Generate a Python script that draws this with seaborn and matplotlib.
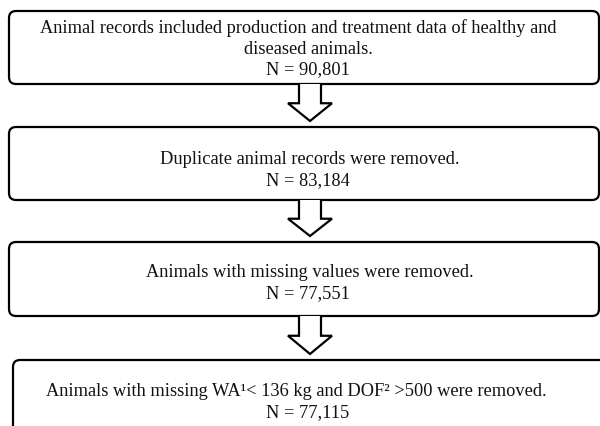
import numpy as np
import seaborn as sns
import matplotlib.pyplot as plt
from matplotlib.patches import FancyBboxPatch, Polygon

# flowchart content
step_text = [
    ["Animal records included production and treatment data of healthy and",
     "diseased animals."],
    ["Duplicate animal records were removed."],
    ["Animals with missing values were removed."],
    ["Animals with missing WA\u00b9< 136 kg and DOF\u00b2 >500 were removed."],
]
step_n = [90801, 83184, 77551, 77115]

sns.set_theme(style="white")
plt.rcParams['font.family'] = ['Liberation Serif', 'DejaVu Serif']

# box layout in pixels (x0, y0, x1, y1)
boxes = [(9, 12, 599, 85), (9, 128, 599, 201), (9, 243, 599, 317), (13, 361, 640, 470)]
text_y = [[28, 49, 70], [160, 181], [273, 294], [392, 413]]
text_x = [[298, 308, 308], [310, 308], [310, 308], [296, 308]]

fig = plt.figure(figsize=(6, 4.27), dpi=100)
ax = fig.add_axes([0, 0, 1, 1])
ax.set_xlim(0, 600)
ax.set_ylim(427, 0)
ax.axis("off")

for i, (x0, y0, x1, y1) in enumerate(boxes):
    ax.add_patch(FancyBboxPatch((x0, y0), x1 - x0, y1 - y0,
                                boxstyle="round,pad=0,rounding_size=7",
                                fc="white", ec="black", lw=1.6, zorder=2))
    lines = step_text[i] + [f"N = {step_n[i]:,}"]
    for s, tx, ty in zip(lines, text_x[i], text_y[i]):
        ax.text(tx, ty, s, ha="center", va="center", fontsize=13.2,
                color="#111111", zorder=4)

# hollow block arrows between boxes
cx, shaft_w, head_w = 310, 22, 44
for i in range(len(boxes) - 1):
    top = boxes[i][3]
    tip = boxes[i + 1][1] - 6
    neck = top + (tip - top) * 0.52
    pts = [(cx - shaft_w / 2, top), (cx - shaft_w / 2, neck), (cx - head_w / 2, neck),
           (cx, tip), (cx + head_w / 2, neck), (cx + shaft_w / 2, neck),
           (cx + shaft_w / 2, top)]
    ax.add_patch(Polygon(pts, closed=False, fc="white", ec="black", lw=1.6,
                         joinstyle="miter", zorder=3))

fig.savefig("out.png", dpi=100)
